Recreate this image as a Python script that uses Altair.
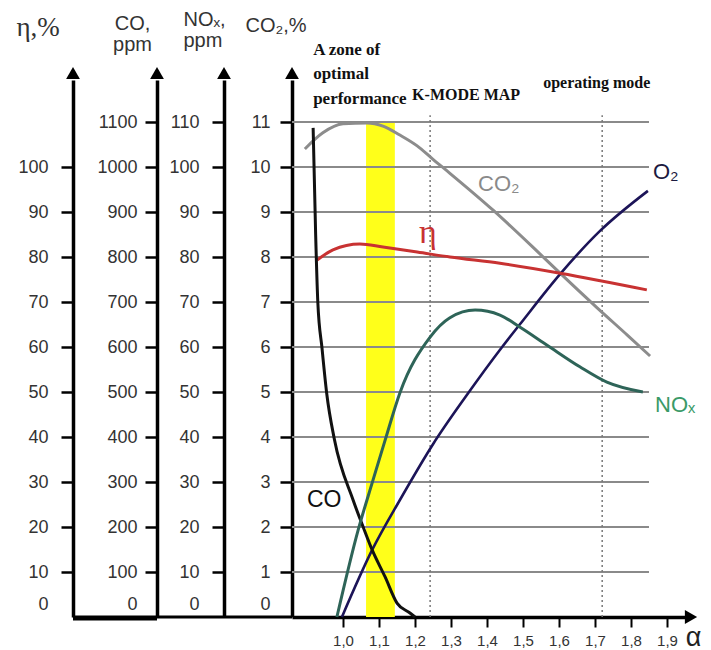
import altair as alt
import pandas as pd

# ---------------- data ----------------
co_alpha = [0.917, 0.924, 0.930, 0.942, 0.955, 0.976, 1.028, 1.056, 1.081, 1.117, 1.150, 1.186, 1.200]
co_ppm = [1087, 850, 700, 595, 495, 395, 260, 200, 149, 89, 31, 9, 0]

co2_alpha = [0.894, 0.944, 1.000, 1.067, 1.111, 1.158, 1.206, 1.250, 1.297, 1.417, 1.539, 1.603, 1.706, 1.789, 1.853]
co2_pct = [10.4, 10.76, 10.96, 10.98, 10.91, 10.71, 10.47, 10.17, 9.86, 9.04, 8.13, 7.64, 6.87, 6.27, 5.8]

eta_alpha = [0.928, 0.972, 1.047, 1.111, 1.206, 1.297, 1.436, 1.603, 1.844]
eta_pct = [79.3, 81.6, 82.9, 82.2, 81.1, 80.0, 78.6, 76.4, 72.7]

nox_alpha = [0.983, 1.042, 1.081, 1.117, 1.158, 1.242, 1.297, 1.367, 1.436, 1.492, 1.567, 1.658, 1.733, 1.833]
nox_ppm = [0, 19.3, 29.8, 39.3, 49.8, 62.2, 66.5, 68.2, 67.1, 64.4, 60.4, 55.6, 52.2, 50.0]

o2_alpha = [0.997, 1.081, 1.158, 1.250, 1.342, 1.442, 1.492, 1.603, 1.714, 1.847]
o2_val = [0, 1.49, 2.6, 3.84, 4.91, 6.0, 6.51, 7.62, 8.58, 9.47]

optimal_zone = [1.064, 1.144]
optimal_zone_top = 11
mode_borders = [1.242, 1.72]
mode_border_top = 11.15
grid_levels = list(range(1, 12))

alpha_ticks = [1.0, 1.1, 1.2, 1.3, 1.4, 1.5, 1.6, 1.7, 1.8, 1.9]
eta_ticks = list(range(0, 101, 10))
co_ticks = list(range(0, 1101, 100))
nox_ticks = list(range(0, 111, 10))
co2_ticks = list(range(0, 12))

zone_text = ["A zone of", "optimal", "performance"]
zone_alpha = [0.917, 0.917, 0.917]
zone_level = [12.6, 12.07, 11.51]

mode_text = ["K-MODE MAP", "operating mode"]
mode_alpha = [1.192, 1.556]
mode_level = [11.6, 11.87]

lbl_text = ["CO₂", "O₂", "NOₓ", "CO", "η"]
lbl_alpha = [1.375, 1.861, 1.867, 0.90, 1.236]
lbl_level = [9.62, 9.89, 4.71, 2.6, 8.53]

# ---------------- layout / style ----------------
W, H = 395, 537
X_MIN, X_MAX = 0.8583, 1.9556
Y_TOP = H / 45.0          # plot top in CO2-% units
GRID_END = 1.85
SANS = "Liberation Sans"
SERIF = "Liberation Serif"

xscale = alt.Scale(domain=[X_MIN, X_MAX], nice=False, zero=False)
y_co2 = alt.Scale(domain=[0, Y_TOP], nice=False, zero=False)

x_axis = alt.Axis(values=alpha_ticks, labelExpr="replace(format(datum.value, '.1f'), '.', ',')",
                  grid=False, domainColor="black", domainWidth=3.5, tickColor="black", tickWidth=2,
                  tickSize=10, labelFont=SANS, labelFontSize=15, labelColor="#333", labelPadding=6,
                  labelFlush=False, labelOverlap=False,
                  title="α", titleFont=SANS, titleFontSize=27, titleFontWeight="normal", titleColor="#222",
                  titleX=401, titleY=20, titleAlign="center", titleBaseline="middle")

ZERO = "datum.value === 0"


def left_axis(vals, offset, title, tx, ty, pad, talign="left", tfont=SANS, tsize=20, lh=21):
    return alt.Axis(values=vals, orient="left", offset=offset, grid=False, format="d",
                    domainColor="black", domainWidth=3.5,
                    tickColor="black", tickWidth=2.5, tickSize=12,
                    tickOpacity={"condition": {"test": ZERO, "value": 0}, "value": 1},
                    labelOffset={"condition": {"test": ZERO, "value": -13}, "value": 0},
                    labelPadding=pad, labelFont=SANS, labelFontSize=18, labelColor="#333",
                    labelOverlap=False,
                    title=title, titleAngle=0, titleX=tx, titleY=ty, titleAlign=talign,
                    titleBaseline="alphabetic", titleFont=tfont, titleFontSize=tsize,
                    titleFontWeight="normal", titleColor="#333", titleLineHeight=lh)


def xq(field):
    return alt.X(f"{field}:Q", scale=xscale, axis=x_axis)


def yq(field, scale=y_co2):
    return alt.Y(f"{field}:Q", scale=scale, axis=None)


band = alt.Chart(pd.DataFrame({"a0": [optimal_zone[0]], "a1": [optimal_zone[1]],
                               "lo": [0], "hi": [optimal_zone_top]})).mark_rect(
    color="#ffff1a").encode(x=xq("a0"), x2="a1:Q", y=yq("lo"), y2="hi:Q")

grid = alt.Chart(pd.DataFrame({"lvl": grid_levels, "x0": X_MIN, "x1": GRID_END})).mark_rule(
    color="#8a8a8a", strokeWidth=1.8).encode(x=xq("x0"), x2="x1:Q", y=yq("lvl"))

borders = alt.Chart(pd.DataFrame({"a": mode_borders, "lo": 0, "hi": mode_border_top})).mark_rule(
    color="#777", strokeWidth=1.5, strokeDash=[2, 3]).encode(x=xq("a"), y=yq("lo"), y2="hi:Q")

co2_line = alt.Chart(pd.DataFrame({"a": co2_alpha, "v": co2_pct})).mark_line(
    color="#8c8c8c", strokeWidth=3, interpolate="monotone").encode(
    x=xq("a"),
    y=alt.Y("v:Q", scale=y_co2, axis=left_axis(co2_ticks, 0, "CO₂,%", -47, -49, 10)))

o2_line = alt.Chart(pd.DataFrame({"a": o2_alpha, "v": o2_val})).mark_line(
    color="#1c1458", strokeWidth=2.6, interpolate="monotone").encode(x=xq("a"), y=yq("v"))

eta_line = alt.Chart(pd.DataFrame({"a": eta_alpha, "v": eta_pct})).mark_line(
    color="#c83232", strokeWidth=3, interpolate="monotone").encode(
    x=xq("a"),
    y=alt.Y("v:Q", scale=alt.Scale(domain=[0, Y_TOP * 10], nice=False, zero=False),
            axis=left_axis(eta_ticks, 219, "η,%", -57, -45, 13, tfont=SERIF, tsize=27)))

co_line = alt.Chart(pd.DataFrame({"a": co_alpha, "v": co_ppm})).mark_line(
    color="#111", strokeWidth=3, interpolate="monotone").encode(
    x=xq("a"),
    y=alt.Y("v:Q", scale=alt.Scale(domain=[0, Y_TOP * 100], nice=False, zero=False),
            axis=left_axis(co_ticks, 135, ["CO,", "ppm"], -25, -51, 8, talign="center")))

nox_line = alt.Chart(pd.DataFrame({"a": nox_alpha, "v": nox_ppm})).mark_line(
    color="#2e6458", strokeWidth=3, interpolate="monotone").encode(
    x=xq("a"),
    y=alt.Y("v:Q", scale=alt.Scale(domain=[0, Y_TOP * 10], nice=False, zero=False),
            axis=left_axis(nox_ticks, 68, ["NOₓ,", "ppm"], -41, -55, 13)))

lbl_df = pd.DataFrame({"t": lbl_text, "a": lbl_alpha, "v": lbl_level})
lbl_style = [("#8a8a8a", SANS, 22, "left"), ("#1c1a40", SANS, 22, "left"), ("#3a9a68", SANS, 22, "left"),
             ("#111", SANS, 23, "left"), ("#c83232", SERIF, 34, "center")]
labels = []
for i, (col, fnt, fs, al) in enumerate(lbl_style):
    labels.append(alt.Chart(lbl_df.iloc[[i]]).mark_text(
        color=col, font=fnt, fontSize=fs, align=al, baseline="middle").encode(
        x=xq("a"), y=yq("v"), text="t:N"))

zone_ann = alt.Chart(pd.DataFrame({"t": zone_text, "a": zone_alpha, "v": zone_level})).mark_text(
    font=SERIF, fontSize=17, fontWeight="bold", color="#111", align="left", baseline="middle").encode(
    x=xq("a"), y=yq("v"), text="t:N")

mode_ann = alt.Chart(pd.DataFrame({"t": mode_text, "a": mode_alpha, "v": mode_level})).mark_text(
    font=SERIF, fontSize=16, fontWeight="bold", color="#111", align="left", baseline="middle").encode(
    x=xq("a"), y=yq("v"), text="t:N")

one = pd.DataFrame({"k": [0]})
arrows = [alt.Chart(one).mark_point(shape="triangle-up", filled=True, color="black", size=190, opacity=1)
          .encode(x=alt.value(px), y=alt.value(-7)) for px in (-219, -135, -68, 0)]
x_arrow = alt.Chart(one).mark_point(shape="triangle-right", filled=True, color="black", size=200, opacity=1
                                    ).encode(x=alt.value(W + 4), y=alt.value(H))
bottom_thick = alt.Chart(one).mark_rule(color="black", strokeWidth=5).encode(
    x=alt.value(-219), x2=alt.value(-135), y=alt.value(H + 1))
bottom_thin = alt.Chart(one).mark_rule(color="black", strokeWidth=3).encode(
    x=alt.value(-135), x2=alt.value(0), y=alt.value(H))

chart = alt.layer(band, grid, borders, co2_line, o2_line, eta_line, co_line, nox_line,
                  *labels, zone_ann, mode_ann, *arrows, x_arrow, bottom_thick, bottom_thin
                  ).resolve_scale(y="independent").properties(
    width=W, height=H,
    padding={"left": 284, "top": 72, "right": 16, "bottom": 34},
    autosize=alt.AutoSizeParams(type="none"),
).configure_view(stroke=None)

chart.save("out.html", embed_options={"renderer": "svg", "actions": False})
